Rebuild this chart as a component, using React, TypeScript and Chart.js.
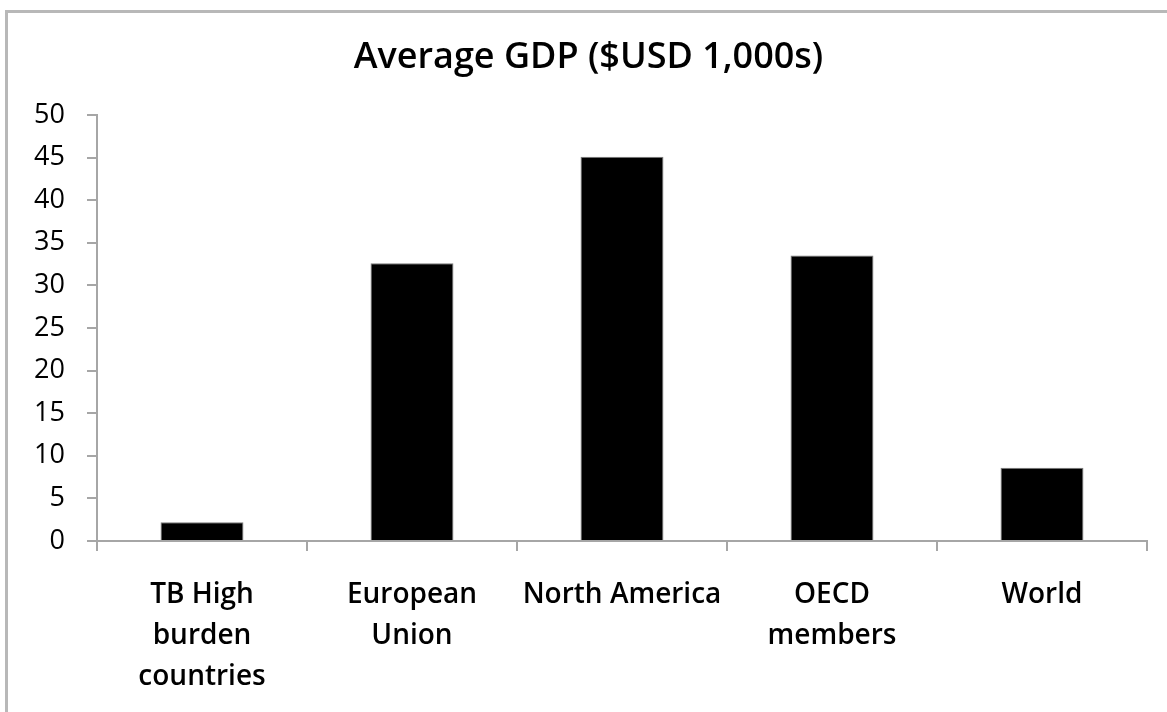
import React, { useEffect, useRef } from "react";
import { Chart, registerables } from "chart.js";

Chart.register(...registerables);

const TITLE = "Average GDP ($USD 1,000s)";
const categories: string[][] = [
  ["TB High", "burden", "countries"],
  ["European", "Union"],
  ["North America"],
  ["OECD", "members"],
  ["World"],
];
const gdpValues: number[] = [2.2, 32.6, 45.1, 33.5, 8.6];
const yMin = 0;
const yMax = 50;
const yStep = 5;

export default function App() {
  const canvasRef = useRef<HTMLCanvasElement | null>(null);

  useEffect(() => {
    document.body.style.margin = "0";
    const canvas = canvasRef.current;
    if (!canvas) return;
    const axisColor = "#a6a6a6";
    const FONT = "'Open Sans', sans-serif";
    const chart = new Chart(canvas, {
      type: "bar",
      data: {
        labels: categories,
        datasets: [
          {
            label: "Average GDP",
            data: gdpValues,
            backgroundColor: "#000000",
            borderColor: "#7a7a7a",
            borderWidth: 1,
            barPercentage: 0.395,
            categoryPercentage: 1,
          },
        ],
      },
      options: {
        animation: false,
        responsive: false,
        devicePixelRatio: 1,
        layout: { padding: { top: 0, left: 30, right: 20, bottom: 16 } },
        plugins: {
          legend: { display: false },
          tooltip: { enabled: false },
          title: {
            display: true,
            text: TITLE,
            color: "#000000",
            font: { family: FONT, size: 36, weight: "600", lineHeight: 1.2 },
            padding: { top: 36, bottom: 35.8 },
          },
        },
        scales: {
          x: {
            offset: true,
            afterFit: (s: any) => {
              s.height = 155;
            },
            grid: {
              display: true,
              drawOnChartArea: false,
              drawTicks: true,
              tickLength: 10,
              color: axisColor,
              tickColor: axisColor,
              lineWidth: 2,
              offset: true,
            },
            border: { display: true, color: axisColor, width: 2 },
            ticks: {
              color: "#000000",
              font: { family: FONT, size: 28, weight: "600", lineHeight: 1.464 },
              padding: 24,
              maxRotation: 0,
              minRotation: 0,
              autoSkip: false,
            },
          },
          y: {
            min: yMin,
            max: yMax,
            afterFit: (s: any) => {
              s.width = 67;
            },
            grid: {
              display: true,
              drawOnChartArea: false,
              drawTicks: true,
              tickLength: 10,
              color: axisColor,
              tickColor: axisColor,
              lineWidth: 2,
            },
            border: { display: true, color: axisColor, width: 2 },
            ticks: {
              stepSize: yStep,
              color: "#000000",
              font: { family: FONT, size: 27, weight: "500" },
              padding: 22,
            },
          },
        },
      },
    });
    return () => chart.destroy();
  }, []);

  return (
    <div
      style={{
        position: "fixed",
        left: 0,
        top: 0,
        width: 1167,
        height: 712,
        overflow: "hidden",
        background: "#ffffff",
      }}
    >
      <div
        style={{
          position: "absolute",
          left: 5,
          top: 10,
          width: 1200,
          height: 800,
          borderLeft: "3px solid #b8b8b8",
          borderTop: "3px solid #b8b8b8",
          boxSizing: "border-box",
        }}
      />
      <canvas
        ref={canvasRef}
        width={1167}
        height={712}
        style={{ position: "absolute", left: 0, top: 0, width: 1167, height: 712 }}
      />
    </div>
  );
}
